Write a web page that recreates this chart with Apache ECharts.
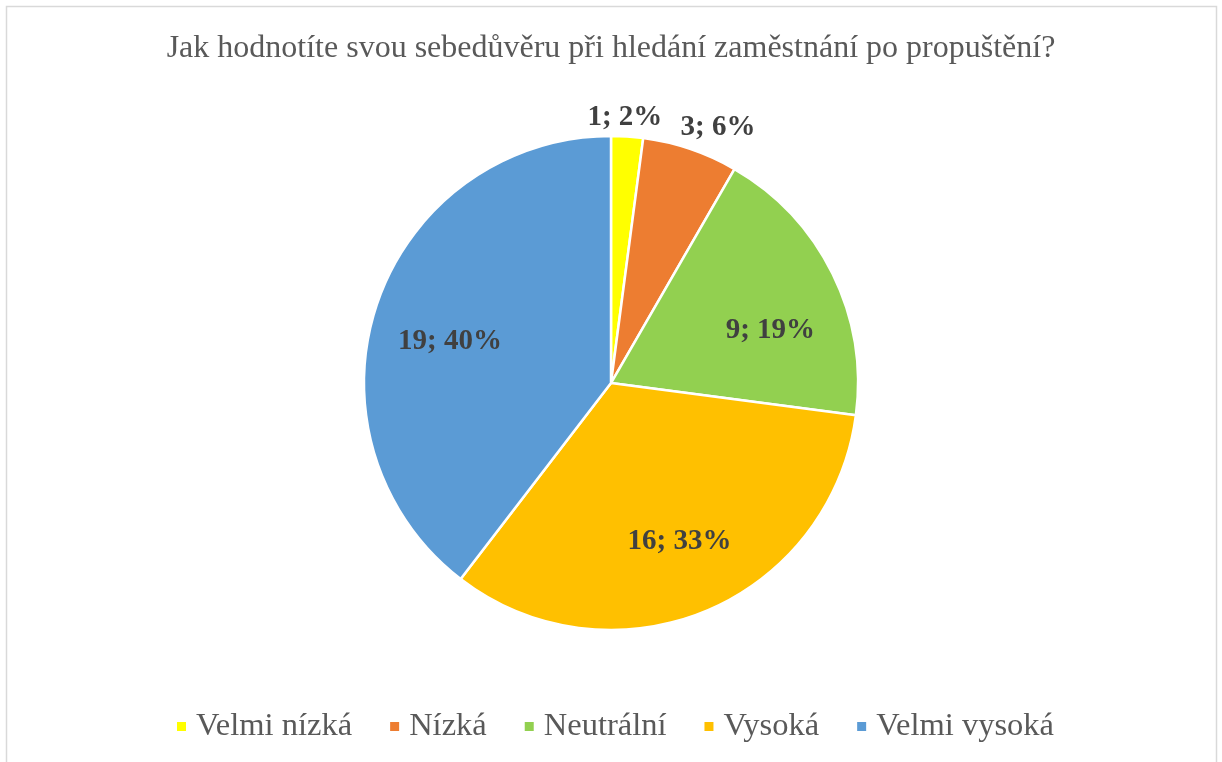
<!DOCTYPE html>
<html>
<head>
<meta charset="utf-8">
<script src="https://cdn.jsdelivr.net/npm/echarts@6/dist/echarts.min.js"></script>
<style>
html,body{margin:0;padding:0;background:#fff;}
#c{width:1222px;height:762px;}
</style>
</head>
<body>
<div id="c"></div>
<script>
const titleText = 'Jak hodnotíte svou sebedůvěru při hledání zaměstnání po propuštění?';
const categories = ['Velmi nízká', 'Nízká', 'Neutrální', 'Vysoká', 'Velmi vysoká'];
const counts = [1, 3, 9, 16, 19];
const colors = ['#FFFF00', '#ED7D31', '#92D050', '#FFC000', '#5B9BD5'];

const FONT = "'Liberation Serif', 'Times New Roman', serif";
const total = counts.reduce((a, b) => a + b, 0);
const labelOffsets = [[-4, 8], [19, 4], [6, 23], [3, 1], [1, 13]];

const chart = echarts.init(document.getElementById('c'), null, {renderer: 'canvas'});

function labelFmt(p) {
  return p.value + '; ' + Math.round(p.value / total * 100) + '%';
}
const labelStyle = {
  fontFamily: FONT, fontWeight: 'bold', fontSize: 29, color: '#404040'
};

const mainData = categories.map((c, i) => ({
  name: c, value: counts[i], itemStyle: {color: colors[i]}
}));
const innerLabelData = categories.map((c, i) => ({
  name: c, value: counts[i],
  label: {show: counts[i] / total >= 0.1, offset: labelOffsets[i]}
}));
const outerLabelData = categories.map((c, i) => ({
  name: c, value: counts[i],
  label: {show: counts[i] / total < 0.1, offset: labelOffsets[i]}
}));

chart.setOption({
  animation: false,
  backgroundColor: '#fff',
  color: colors,
  graphic: [{
    type: 'rect', silent: true, z: -1,
    shape: {x: 6.5, y: 6.5, width: 1210, height: 800},
    style: {fill: '#fff', stroke: '#D9D9D9', lineWidth: 1.5}
  }],
  title: {
    text: titleText, left: 'center', top: 28,
    textStyle: {fontFamily: FONT, fontWeight: 'normal', fontSize: 32, color: '#595959'}
  },
  legend: {
    data: categories, bottom: 14, left: 170,
    icon: 'rect', itemWidth: 11, itemHeight: 11, itemGap: 36,
    selectedMode: false,
    textStyle: {fontFamily: FONT, fontSize: 32.5, color: '#595959', padding: [0, 0, 0, 4]}
  },
  series: [{
    type: 'pie', center: [611, 383], radius: [0, 247], startAngle: 90,
    clockwise: true, silent: true,
    itemStyle: {borderColor: '#fff', borderWidth: 2.5},
    label: {show: false}, labelLine: {show: false},
    data: mainData
  }, {
    type: 'pie', center: [611, 383], radius: [120, 216], startAngle: 90,
    clockwise: true, silent: true, legendHoverLink: false,
    itemStyle: {color: 'rgba(0,0,0,0)', borderWidth: 0},
    label: Object.assign({position: 'inside', formatter: labelFmt}, labelStyle),
    labelLine: {show: false},
    data: innerLabelData
  }, {
    type: 'pie', center: [611, 383], radius: [252, 290], startAngle: 90,
    clockwise: true, silent: true, legendHoverLink: false,
    itemStyle: {color: 'rgba(0,0,0,0)', borderWidth: 0},
    label: Object.assign({position: 'inside', formatter: labelFmt}, labelStyle),
    labelLine: {show: false},
    data: outerLabelData
  }]
});
</script>
</body>
</html>
